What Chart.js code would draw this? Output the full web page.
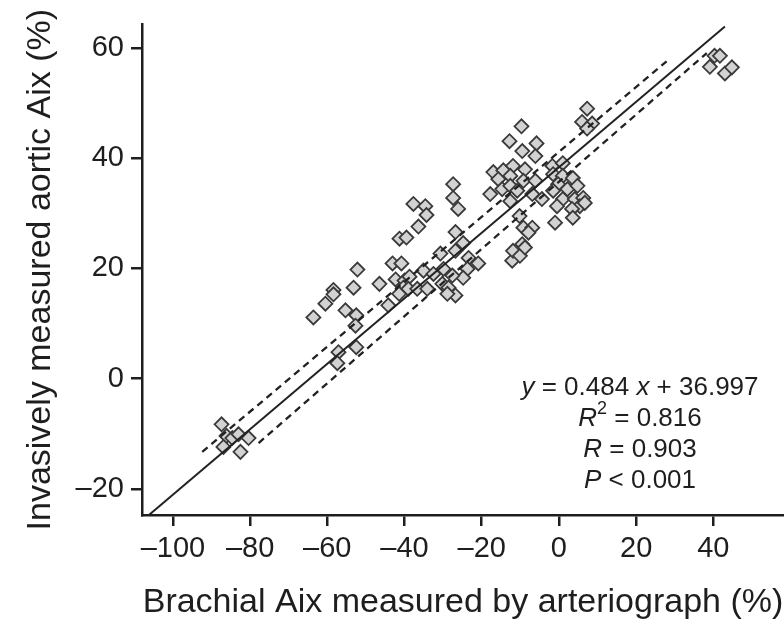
<!DOCTYPE html>
<html>
<head>
<meta charset="utf-8">
<script src="https://cdn.jsdelivr.net/npm/chart.js@4"></script>
<style>
  html, body { margin: 0; padding: 0; background: #fff; }
</style>
</head>
<body>
<canvas id="chart" width="784" height="626"></canvas>
<script>
// brachial Aix (x) and invasive aortic Aix (y)
const brachialAix = [
  -87.4, -86.1, -84.6, -86.9, -83.0, -80.4, -82.5,
  -63.6, -60.5, -58.4, -58.4, -55.3, -52.5, -52.7, -53.2, -52.2, -52.5, -57.1, -57.4,
  -46.5, -44.2, -43.1, -40.8, -42.3, -40.0, -38.7, -40.3, -41.4, -39.0, -36.7, -34.1,
  -41.3, -39.5, -36.4, -37.7, -34.6, -34.3, -35.1, -32.5,
  -27.4, -27.4, -26.1, -26.8, -24.8, -26.8, -30.7, -23.4, -20.9, -23.7, -24.8, -27.6,
  -29.9, -30.2, -28.6, -26.8, -28.9, -12.1,
  -9.7, -12.8, -5.8, -9.5, -6.1, -1.7, -17.0, -14.4, -11.9, -8.8, -15.7, -12.6, -9.2,
  -6.1, -17.8, -14.7, -12.6, -10.8, -6.9, -4.4, -12.6, -10.2, -9.2, -6.9, -7.9, -9.5,
  -11.9, -10.1, -8.8,
  7.3, 6.0, 8.6, 7.3, 1.0, -1.5, 1.0, 3.6, -0.2, 2.2, 4.8, -1.5, 1.0, -0.5, 4.1, 6.3,
  5.4, 6.7, 3.4, 3.6, -1.0,
  40.3, 41.7, 39.1, 43.0, 44.8
];
const aorticAix = [
  -8.3, -10.4, -10.8, -12.4, -10.1, -10.8, -13.3,
  11.1, 13.6, 16.1, 15.3, 12.4, 11.5, 9.6, 16.5, 19.8, 5.7, 4.8, 2.8,
  17.2, 13.3, 20.9, 20.9, 18.0, 17.8, 18.5, 16.5, 15.4, 16.3, 16.3, 16.3,
  25.4, 25.6, 27.6, 31.7, 31.3, 29.7, 19.6, 19.0,
  35.3, 32.8, 30.8, 26.6, 24.6, 23.2, 22.7, 21.9, 20.9, 19.9, 18.3, 18.7,
  19.9, 17.2, 16.5, 15.1, 15.4, 21.4,
  45.8, 43.1, 42.7, 41.3, 40.4, 38.6, 37.5, 37.8, 38.6, 38.0, 36.2, 36.8, 35.9,
  35.9, 33.5, 34.4, 35.0, 34.1, 33.5, 32.6, 32.2, 29.5, 27.4, 27.4, 26.5, 24.4,
  23.2, 22.3, 23.8,
  49.0, 46.6, 46.3, 45.4, 39.1, 37.1, 36.8, 36.4, 35.3, 34.4, 35.0, 34.1, 32.6, 31.3, 32.6, 32.8,
  31.3, 31.9, 30.8, 29.2, 28.3,
  58.6, 58.6, 56.6, 55.4, 56.5
];

// regression line and its dashed band, end points as drawn
const fitX = [-106.2, 43.0];
const fitY = [-24.76, 63.9];
const upperX = [-92.4, 27.9];
const upperY = [-13.3, 57.6];
const lowerX = [-77.8, 38.3];
const lowerY = [-11.7, 59.1];

const xTicks = [-100, -80, -60, -40, -20, 0, 20, 40];
const yTicks = [-20, 0, 20, 40, 60];

const statsLines = [
  [{ t: 'y', i: true }, { t: ' = 0.484 ' }, { t: 'x', i: true }, { t: ' + 36.997' }],
  [{ t: 'R', i: true }, { t: '2', sup: true }, { t: ' = 0.816' }],
  [{ t: 'R', i: true }, { t: ' = 0.903' }],
  [{ t: 'P', i: true }, { t: ' < 0.001' }]
];
const statsAnchor = [21, -1.7];

const FONT = '"Liberation Sans", Arial, sans-serif';
const INK = '#1e1e1e';

const toPts = (xs, ys) => xs.map((x, i) => ({ x: x, y: ys[i] }));
const fmt = v => (v < 0 ? '\u2013' + Math.abs(v) : String(v));

const statsPlugin = {
  id: 'stats',
  afterDatasetsDraw(chart) {
    const ctx = chart.ctx;
    const cx = chart.scales.x.getPixelForValue(statsAnchor[0]);
    let cy = chart.scales.y.getPixelForValue(statsAnchor[1]);
    const fontFor = r => (r.i ? 'italic ' : '') + (r.sup ? '18px ' : '26px ') + FONT;
    ctx.save();
    ctx.fillStyle = INK;
    ctx.textBaseline = 'middle';
    ctx.textAlign = 'left';
    statsLines.forEach(runs => {
      const widths = runs.map(r => { ctx.font = fontFor(r); return ctx.measureText(r.t).width; });
      let x = cx - widths.reduce((a, b) => a + b, 0) / 2;
      runs.forEach((r, k) => {
        ctx.font = fontFor(r);
        ctx.fillText(r.t, x, cy + (r.sup ? -10 : 0));
        x += widths[k];
      });
      cy += 31;
    });
    ctx.restore();
  }
};

const axisGrid = { drawOnChartArea: false, drawTicks: true, tickLength: 11, color: INK, lineWidth: 2.5 };
const axisBorder = { display: true, color: INK, width: 2.5 };

new Chart(document.getElementById('chart'), {
  type: 'scatter',
  data: {
    datasets: [
      {
        type: 'line', data: toPts(fitX, fitY), showLine: true,
        borderColor: '#222', borderWidth: 2, pointRadius: 0, fill: false
      },
      {
        type: 'line', data: toPts(upperX, upperY), showLine: true,
        borderColor: '#222', borderWidth: 2.3, borderDash: [7, 5], pointRadius: 0, fill: false
      },
      {
        type: 'line', data: toPts(lowerX, lowerY), showLine: true,
        borderColor: '#222', borderWidth: 2.3, borderDash: [7, 5], pointRadius: 0, fill: false
      },
      {
        data: toPts(brachialAix, aorticAix),
        pointStyle: 'rectRot', pointRadius: 7, pointHoverRadius: 7,
        backgroundColor: '#d2d2d2', borderColor: '#3a3a3a', borderWidth: 1.8
      }
    ]
  },
  options: {
    responsive: false,
    animation: false,
    layout: { autoPadding: false, padding: { top: 23, right: 0, left: 0, bottom: 0 } },
    plugins: { legend: { display: false }, tooltip: { enabled: false } },
    scales: {
      x: {
        type: 'linear', min: -108, max: 58.3,
        afterBuildTicks: s => { s.ticks = xTicks.map(v => ({ value: v })); },
        afterFit: s => { s.height = 111; },
        ticks: { font: { family: FONT, size: 29 }, color: INK, padding: 6, maxRotation: 0, callback: fmt },
        grid: axisGrid,
        border: axisBorder,
        title: {
          display: true, text: 'Brachial Aix measured by arteriograph (%)',
          font: { family: FONT, size: 34 }, color: INK, padding: { top: 0, bottom: 3 }
        }
      },
      y: {
        type: 'linear', min: -24.76, max: 64.3,
        afterBuildTicks: s => { s.ticks = yTicks.map(v => ({ value: v })); },
        afterFit: s => { s.width = 142; },
        ticks: { font: { family: FONT, size: 29 }, color: INK, padding: 7, callback: fmt },
        grid: axisGrid,
        border: axisBorder,
        title: {
          display: true, text: 'Invasively measured aortic Aix (%)',
          font: { family: FONT, size: 34 }, color: INK, padding: { top: 20, bottom: 0 }
        }
      }
    }
  },
  plugins: [statsPlugin]
});
</script>
</body>
</html>
